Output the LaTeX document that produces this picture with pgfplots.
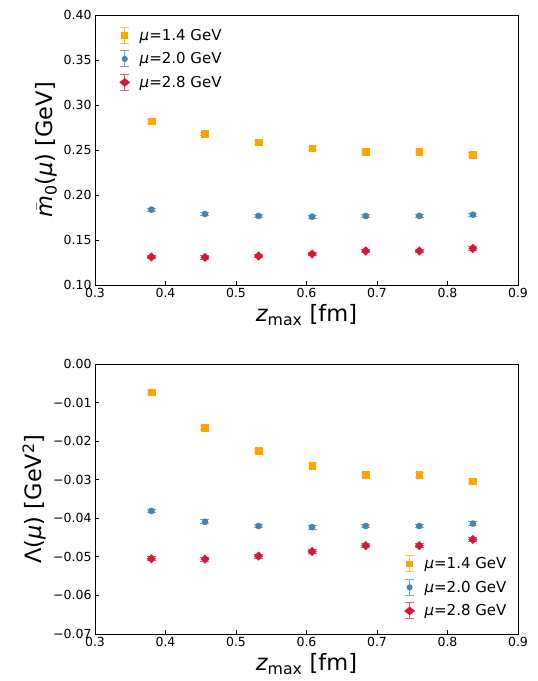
\documentclass[border=0pt]{standalone}
\usepackage{fontspec}
\setmainfont{DejaVu Sans}
\usepackage{pgfplots}
\pgfplotsset{compat=1.18}
\definecolor{cOr}{HTML}{FFA500}
\definecolor{cBl}{HTML}{4682B4}
\definecolor{cRd}{HTML}{DC143C}
\newcommand{\mi}[1]{{\itshape #1}}
\pgfplotsset{
  common/.style={
    scale only axis, width=423bp, height=270bp,
    xmin=0.3, xmax=0.9,
    xtick={0.3,0.4,0.5,0.6,0.7,0.8,0.9},
    xticklabels={0.3,0.4,0.5,0.6,0.7,0.8,0.9},
    scaled x ticks=false, scaled y ticks=false,
    tick align=inside, tick pos=left,
    major tick length=4bp,
    axis line style={line width=0.8bp},
    every tick/.style={black, line width=0.8bp},
    tick label style={font=\fontsize{12.5bp}{15bp}\selectfont},
    label style={font=\fontsize{22.5bp}{27bp}\selectfont},
    xlabel={\mi{z}\textsubscript{max} [fm]},
    legend style={draw=none, fill=none, font=\fontsize{15bp}{18bp}\selectfont,
      row sep=6.5bp},
    legend cell align=left,
    error bars/y dir=both, error bars/y explicit,
    error bars/error bar style={line width=1bp, opacity=0.7},
    error bars/error mark options={rotate=90, mark size=4.5bp, line width=1bp, opacity=0.7},
  },
  limg/.style={legend image code/.code={
      \path[draw=none] (0cm,0cm) (0.25cm+13bp,0cm);
      \draw[#1, line width=1bp, opacity=0.7] (0.25cm,-8bp)--(0.25cm,8bp)
        (0.25cm-4.5bp,-8bp)--(0.25cm+4.5bp,-8bp) (0.25cm-4.5bp,8bp)--(0.25cm+4.5bp,8bp);
      \path[draw=none] plot[mark=#1mark] coordinates {(0.25cm,0cm)};}},
  sOr/.style={color=cOr, only marks, mark=square*, mark size=3.3bp, limg=cOr},
  sBl/.style={color=cBl, only marks, mark=*, mark size=3.1bp, limg=cBl},
  sRd/.style={color=cRd, only marks, mark=diamond*, mark size=4.3bp,
    mark options={xscale=1.3}, limg=cRd},
}
\pgfdeclareplotmark{cOrmark}{\pgfsetfillcolor{cOr}\pgfpathrectangle{\pgfpoint{-3.3bp}{-3.3bp}}{\pgfpoint{6.6bp}{6.6bp}}\pgfusepathqfill}
\pgfdeclareplotmark{cBlmark}{\pgfsetfillcolor{cBl}\pgfpathcircle{\pgfpointorigin}{3.1bp}\pgfusepathqfill}
\pgfdeclareplotmark{cRdmark}{\pgfsetfillcolor{cRd}\pgfpathmoveto{\pgfpoint{0bp}{4.3bp}}\pgfpathlineto{\pgfpoint{4.2bp}{0bp}}\pgfpathlineto{\pgfpoint{0bp}{-4.3bp}}\pgfpathlineto{\pgfpoint{-4.2bp}{0bp}}\pgfpathclose\pgfusepathqfill}
\begin{document}
\begin{tikzpicture}
\begin{axis}[common, at={(0,0)}, anchor=north west,
  ymin=0.10, ymax=0.40,
  ytick={0.10,0.15,0.20,0.25,0.30,0.35,0.40},
  yticklabels={0.10,0.15,0.20,0.25,0.30,0.35,0.40},
  ylabel={$\bar{\mbox{\mi{m}}}$\textsubscript{0}(\mi{μ}) [GeV]},
  legend style={at={(0.046,0.964)}, anchor=north west},
]
\addplot[sOr] table[y error=e] {
x y e
0.380 0.2819 0.0022
0.456 0.2678 0.0022
0.532 0.2585 0.0022
0.608 0.2522 0.0022
0.684 0.2478 0.0022
0.760 0.2478 0.0022
0.836 0.2448 0.0022
};
\addlegendentry{\mi{μ}=1.4 GeV}
\addplot[sBl] table[y error=e] {
x y e
0.380 0.1837 0.0016
0.456 0.1789 0.0016
0.532 0.1767 0.0016
0.608 0.1759 0.0016
0.684 0.1767 0.0016
0.760 0.1767 0.0016
0.836 0.1781 0.0016
};
\addlegendentry{\mi{μ}=2.0 GeV}
\addplot[sRd] table[y error=e] {
x y e
0.380 0.1311 0.0020
0.456 0.1307 0.0020
0.532 0.1322 0.0020
0.608 0.1344 0.0020
0.684 0.1378 0.0020
0.760 0.1378 0.0020
0.836 0.1407 0.0020
};
\addlegendentry{\mi{μ}=2.8 GeV}
\end{axis}
\begin{axis}[common, at={(0,-349bp)}, anchor=north west,
  ymin=-0.07, ymax=0.00,
  ytick={-0.07,-0.06,-0.05,-0.04,-0.03,-0.02,-0.01,0.00},
  yticklabels={−0.07,−0.06,−0.05,−0.04,−0.03,−0.02,−0.01,0.00},
  ylabel={Λ(\mi{μ}) [GeV\textsuperscript{2}]},
  legend style={at={(0.985,0.046)}, anchor=south east},
]
\addplot[sOr] table[y error=e] {
x y e
0.380 -0.00735 0.0006
0.456 -0.0165 0.0006
0.532 -0.0224 0.0006
0.608 -0.0263 0.0006
0.684 -0.0287 0.0006
0.760 -0.0287 0.0006
0.836 -0.0304 0.0006
};
\addlegendentry{\mi{μ}=1.4 GeV}
\addplot[sBl] table[y error=e] {
x y e
0.380 -0.0381 0.0005
0.456 -0.0409 0.0005
0.532 -0.0420 0.0005
0.608 -0.0423 0.0005
0.684 -0.0420 0.0005
0.760 -0.0420 0.0005
0.836 -0.0414 0.0005
};
\addlegendentry{\mi{μ}=2.0 GeV}
\addplot[sRd] table[y error=e] {
x y e
0.380 -0.0505 0.0005
0.456 -0.0506 0.0005
0.532 -0.0498 0.0005
0.608 -0.0486 0.0005
0.684 -0.0471 0.0005
0.760 -0.0471 0.0005
0.836 -0.0455 0.0005
};
\addlegendentry{\mi{μ}=2.8 GeV}
\end{axis}
\pgfresetboundingbox
\useasboundingbox (-95bp,15bp) rectangle (443bp,-666bp);
\end{tikzpicture}
\end{document}
